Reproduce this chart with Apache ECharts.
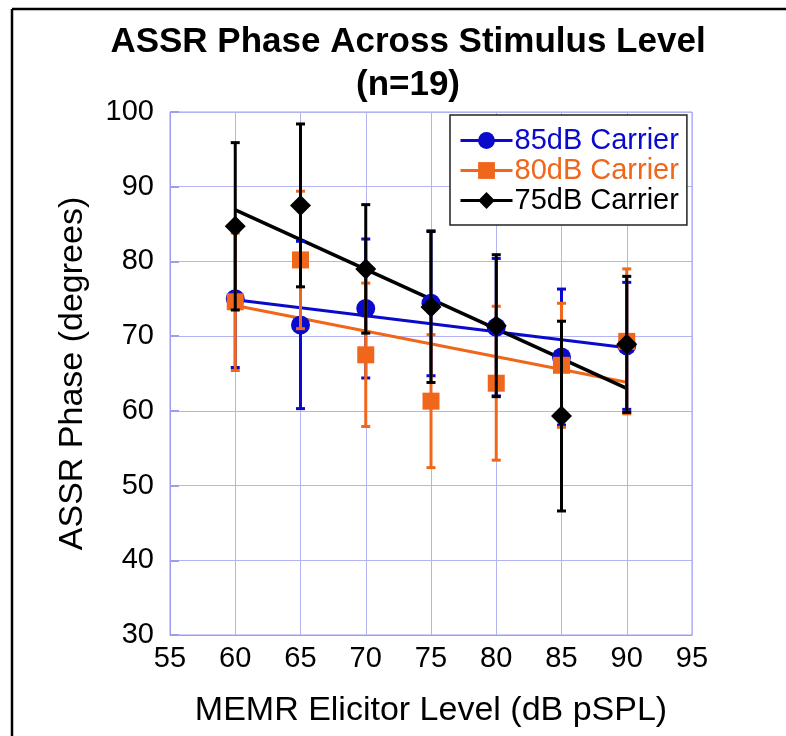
<!DOCTYPE html>
<html>
<head>
<meta charset="utf-8">
<title>ASSR Phase Across Stimulus Level</title>
<script src="https://cdn.jsdelivr.net/npm/echarts@6/dist/echarts.min.js"></script>
<style>
  html, body { margin: 0; padding: 0; background: #ffffff; }
  #chart { width: 786px; height: 736px; }
</style>
</head>
<body>
<div id="chart"></div>
<script>
// MEMR elicitor levels (dB pSPL)
const levels = [60, 65, 70, 75, 80, 85, 90];

// Mean ASSR phase (degrees) and standard deviation per carrier level
const phase85 = [75.0, 71.5, 73.7, 74.4, 71.2, 67.2, 68.7];
const sd85    = [9.2, 11.2, 9.3, 9.7, 9.2, 9.1, 8.5];

const phase80 = [74.6, 80.2, 67.5, 61.3, 63.7, 66.1, 69.3];
const sd80    = [9.2, 9.2, 9.6, 8.9, 10.3, 8.3, 9.7];

const phase75 = [84.7, 87.5, 79.0, 73.9, 71.4, 59.3, 68.9];
const sd75    = [11.2, 10.9, 8.6, 10.1, 9.5, 12.7, 9.1];

const seriesNames = ['85dB Carrier', '80dB Carrier', '75dB Carrier'];
const yTicks = [30, 40, 50, 60, 70, 80, 90, 100];
const xTicks = [55, 60, 65, 70, 75, 80, 85, 90, 95];

const BLUE = '#0a0acc';
const ORANGE = '#f0661a';
const BLACK = '#000000';
const FONT = "'Liberation Sans', Arial, Helvetica, sans-serif";

// least-squares fit, returned as its two end points over the level range
function fitLine(xs, ys) {
  const n = xs.length;
  const mx = xs.reduce((a, b) => a + b, 0) / n;
  const my = ys.reduce((a, b) => a + b, 0) / n;
  let sxy = 0, sxx = 0;
  for (let i = 0; i < n; i++) {
    sxy += (xs[i] - mx) * (ys[i] - my);
    sxx += (xs[i] - mx) * (xs[i] - mx);
  }
  const b = sxy / sxx;
  const a = my - b * mx;
  const x0 = xs[0], x1 = xs[n - 1];
  return [[x0, a + b * x0], [x1, a + b * x1]];
}

function points(ys) {
  return levels.map((x, i) => [x, ys[i]]);
}

function errRows(ys, sds) {
  return levels.map((x, i) => [x, ys[i] - sds[i], ys[i] + sds[i]]);
}

function errorBarSeries(name, ys, sds, color, z) {
  return {
    type: 'custom',
    name: name,
    z: z,
    silent: true,
    data: errRows(ys, sds),
    encode: { x: 0, y: [1, 2] },
    renderItem: function (params, api) {
      const x = api.value(0);
      const lo = api.coord([x, api.value(1)]);
      const hi = api.coord([x, api.value(2)]);
      const half = 4.5;
      const st = { stroke: color, lineWidth: 3 };
      return {
        type: 'group',
        children: [
          { type: 'line', shape: { x1: lo[0], y1: lo[1], x2: hi[0], y2: hi[1] }, style: st },
          { type: 'line', shape: { x1: lo[0] - half, y1: lo[1], x2: lo[0] + half, y2: lo[1] }, style: st },
          { type: 'line', shape: { x1: hi[0] - half, y1: hi[1], x2: hi[0] + half, y2: hi[1] }, style: st }
        ]
      };
    }
  };
}

function markerSeries(name, ys, color, symbol, size, z) {
  return {
    type: 'line',
    name: name,
    z: z,
    data: points(ys),
    symbol: symbol,
    symbolSize: size,
    showAllSymbol: true,
    itemStyle: { color: color, borderWidth: 0 },
    lineStyle: { color: color, width: 3, opacity: 0 },
    emphasis: { disabled: true },
    animation: false
  };
}

function trendSeries(name, ys, color, width, z) {
  return {
    type: 'line',
    name: name,
    z: z,
    data: fitLine(levels, ys),
    symbol: 'none',
    lineStyle: { color: color, width: width },
    silent: true,
    animation: false
  };
}

const chart = echarts.init(document.getElementById('chart'), null, { renderer: 'canvas' });

chart.setOption({
  backgroundColor: '#ffffff',
  animation: false,
  title: {
    text: 'ASSR Phase Across Stimulus Level\n(n=19)',
    left: 403,
    top: 16,
    textAlign: 'center',
    textStyle: {
      fontFamily: FONT,
      fontWeight: 'bold',
      fontSize: 35,
      lineHeight: 43,
      color: '#000'
    }
  },
  grid: {
    left: 170, top: 112, right: 94, bottom: 101,
    show: true,
    borderColor: '#9c9cf0',
    borderWidth: 1,
    backgroundColor: '#ffffff'
  },
  legend: {
    data: [
      { name: seriesNames[0], textStyle: { color: BLUE }, lineStyle: { opacity: 1, width: 3, color: BLUE } },
      { name: seriesNames[1], textStyle: { color: ORANGE }, lineStyle: { opacity: 1, width: 3, color: ORANGE } },
      { name: seriesNames[2], textStyle: { color: BLACK }, lineStyle: { opacity: 1, width: 3, color: BLACK } }
    ],
    orient: 'vertical',
    left: 450,
    top: 115,
    padding: [11, 8, 10, 9],
    itemGap: 1,
    itemWidth: 52,
    itemHeight: 21,
    backgroundColor: '#ffffff',
    borderColor: '#222222',
    borderWidth: 1.5,
    borderRadius: 0,
    selectedMode: false,
    textStyle: { fontFamily: FONT, fontSize: 29, padding: [0, 0, 0, -3] }
  },
  xAxis: {
    type: 'value',
    min: 55, max: 95, interval: 5,
    name: 'MEMR Elicitor Level (dB pSPL)',
    nameLocation: 'middle',
    nameGap: 59,
    nameTextStyle: { fontFamily: FONT, fontSize: 34, color: '#000' },
    axisLine: { show: true, lineStyle: { color: '#9c9cf0', width: 1 } },
    axisTick: { show: false },
    axisLabel: {
      fontFamily: FONT, fontSize: 29, color: '#000', margin: 9,
      formatter: v => (xTicks.indexOf(v) >= 0 ? String(v) : '')
    },
    splitLine: { show: true, lineStyle: { color: '#b4b4f2', width: 1 } }
  },
  yAxis: {
    type: 'value',
    min: 30, max: 100, interval: 10,
    name: 'ASSR Phase (degrees)',
    nameLocation: 'middle',
    nameGap: 80,
    nameTextStyle: { fontFamily: FONT, fontSize: 34, color: '#000' },
    axisLine: { show: true, lineStyle: { color: '#9c9cf0', width: 1 } },
    axisTick: { show: true, inside: true, length: 9, lineStyle: { color: '#9c9cf0', width: 2 } },
    axisLabel: {
      fontFamily: FONT, fontSize: 29, color: '#000', margin: 16,
      formatter: v => (yTicks.indexOf(v) >= 0 ? String(v) : '')
    },
    splitLine: { show: true, lineStyle: { color: '#b4b4f2', width: 1 } }
  },
  graphic: [
    // outer frame (left and top edges)
    { type: 'line', shape: { x1: 12, y1: 9, x2: 12, y2: 736 }, style: { stroke: '#000', lineWidth: 2.5 }, z: 100 },
    { type: 'line', shape: { x1: 12, y1: 9, x2: 786, y2: 9 }, style: { stroke: '#000', lineWidth: 2.5 }, z: 100 }
  ],
  series: [
    trendSeries('85dB fit', phase85, BLUE, 3, 2),
    trendSeries('80dB fit', phase80, ORANGE, 3, 2),
    trendSeries('75dB fit', phase75, BLACK, 3.5, 2),
    errorBarSeries('85dB SD', phase85, sd85, BLUE, 3),
    markerSeries(seriesNames[0], phase85, BLUE, 'circle', 19, 4),
    errorBarSeries('80dB SD', phase80, sd80, ORANGE, 5),
    markerSeries(seriesNames[1], phase80, ORANGE, 'rect', 17, 6),
    errorBarSeries('75dB SD', phase75, sd75, BLACK, 7),
    markerSeries(seriesNames[2], phase75, BLACK, 'diamond', 21, 8)
  ]
});
</script>
</body>
</html>
